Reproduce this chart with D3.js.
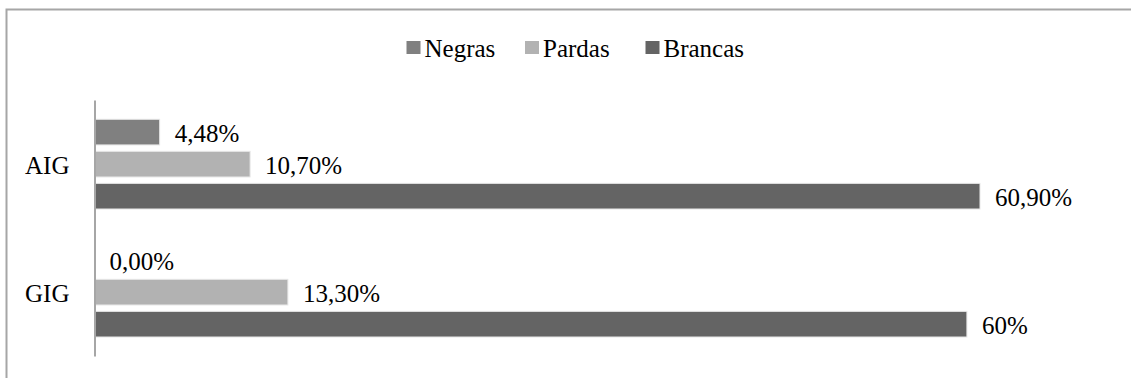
<!DOCTYPE html>
<html><head><meta charset="utf-8">
<script src="https://cdn.jsdelivr.net/npm/d3@7"></script>
<style>
html,body{margin:0;padding:0;background:#fff;}
</style></head>
<body>
<svg id="chart" width="1131" height="378"></svg>
<script>
const categories = ["AIG", "GIG"];
const seriesNames = ["Negras", "Pardas", "Brancas"];
const negras = [4.48, 0.00];
const pardas = [10.70, 13.30];
const brancas = [60.90, 60.00];
const valueLabels = {
  Negras: ["4,48%", "0,00%"],
  Pardas: ["10,70%", "13,30%"],
  Brancas: ["60,90%", "60%"]
};
const colors = ["#808080", "#b2b2b2", "#646464"];

const FONT = "'Liberation Serif', 'Times New Roman', serif";
const FS = 25;

const seriesValues = [negras, pardas, brancas];
const data = [];
categories.forEach((c, i) => {
  seriesNames.forEach((s, j) => {
    data.push({cat: c, series: s, value: seriesValues[j][i], label: valueLabels[s][i], color: colors[j]});
  });
});

const svg = d3.select("#chart");

// outer frame
svg.append("path").attr("d", "M6.5,400 V9.5 H1140")
  .attr("fill", "none").attr("stroke", "#a6a6a6").attr("stroke-width", 2);

const x = d3.scaleLinear().domain([0, 70]).range([94.5, 94.5 + 70 * 14.54]);
const y0 = d3.scaleBand().domain(categories).range([100, 356]).padding(0);
const y1 = d3.scaleBand().domain(seriesNames).range([19.3, 109]).paddingInner(0.2).paddingOuter(0);

const g = svg.append("g");
const bars = g.selectAll("g.bar").data(data).join("g").attr("class", "bar");

bars.filter(d => d.value > 0).append("rect")
  .attr("x", x(0))
  .attr("y", d => y0(d.cat) + y1(d.series))
  .attr("width", d => x(d.value) - x(0))
  .attr("height", y1.bandwidth())
  .attr("fill", d => d.color)
  .attr("stroke", "#e6e6e6").attr("stroke-width", 1);

bars.append("text")
  .attr("x", d => x(d.value) + 15)
  .attr("y", d => y0(d.cat) + y1(d.series) + y1.bandwidth() / 2 + 10)
  .attr("font-family", FONT)
  .attr("font-size", FS)
  .attr("fill", "#000")
  .text(d => d.label);

// axis
const axis = d3.axisLeft(y0).tickSize(0).tickPadding(25);
const ag = svg.append("g").attr("transform", `translate(${x(0)},0)`).call(axis);
ag.attr("font-family", FONT);
ag.select(".domain").attr("stroke", "#a6a6a6").attr("stroke-width", 2);
ag.selectAll(".tick text")
  .attr("font-size", FS).attr("font-family", FONT).attr("fill", "#000")
  .attr("dy", null).attr("y", 10);

// legend
const legendX = [406.5, 525, 645.5];
const lg = svg.append("g");
seriesNames.forEach((s, i) => {
  lg.append("rect").attr("x", legendX[i]).attr("y", 41).attr("width", 14).attr("height", 13).attr("fill", colors[i]);
  lg.append("text")
    .attr("x", legendX[i] + 18).attr("y", 56.5)
    .attr("font-family", FONT)
    .attr("font-size", FS).attr("fill", "#000").text(s);
});
</script>
</body></html>
